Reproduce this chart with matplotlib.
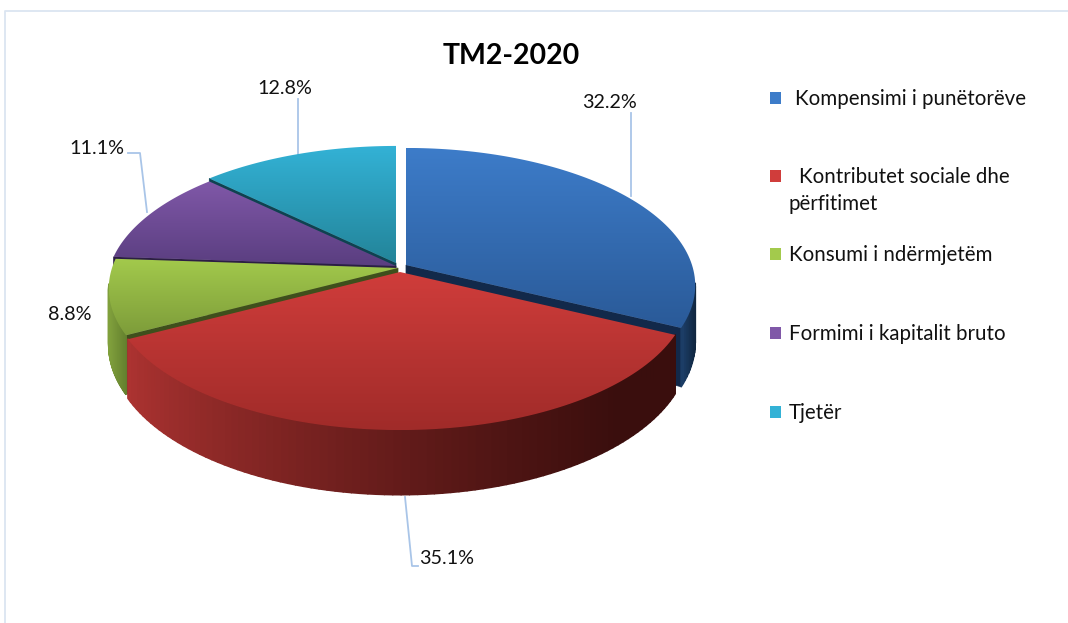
import numpy as np
import matplotlib
matplotlib.use("Agg")
import matplotlib.pyplot as plt
from matplotlib.colors import LinearSegmentedColormap, to_rgb
from matplotlib.patches import Polygon, Rectangle
from matplotlib.collections import PolyCollection

plt.rcParams['font.family'] = ['Lato', 'DejaVu Sans']

categories = ["Kompensimi i punëtorëve", "Kontributet sociale dhe\npërfitimet",
              "Konsumi i ndërmjetëm", "Formimi i kapitalit bruto", "Tjetër"]
shares = [32.2, 35.1, 8.8, 11.1, 12.8]
title = "TM2-2020"

top_light = ['#3d7cc9', '#d03d3b', '#a3ca4c', '#8058a8', '#33b2d6']
top_dark = ['#2a5a98', '#a02b29', '#7d9c3a', '#5a3e80', '#238499']
wall_left = ['#1c3d66', '#b03432', '#80a03c', '#5a3e80', '#238499']
wall_right = ['#10263f', '#3a0e0d', '#64802e', '#3f2c5c', '#1a6478']
edge_dark = ['#12294a', '#4a1211', '#3f4f1c', '#2c1e44', '#0f4250']
apex_offset = [(9, -7), (3, 0), (1, -4), (-1, -6), (-1, -9)]
visible_cut = [-1, None, 0, 0, 0]
draw_order = [4, 3, 2, 0, 1]

fig = plt.figure(figsize=(10.68, 6.23), dpi=100)
ax = fig.add_axes([0, 0, 1, 1])
ax.set_xlim(0, 1068)
ax.set_ylim(623, 0)
ax.axis('off')

CX, CY, RX, RY, K, DEPTH = 397, 272, 286, 134.5, 0.149, 55


def proj(theta, r=1.0):
    u = r * np.sin(theta)
    v = r * np.cos(theta)
    s = 1 / (1 + K * v)
    return CX + RX * u * s, CY - RY * v * s, s


edges = np.deg2rad(np.concatenate([[0], np.cumsum(shares)]) * 3.6)
for i in draw_order:
    dx, dy = apex_offset[i]
    th = np.linspace(edges[i], edges[i + 1], 90)
    x, y, s = proj(th)
    x, y = x + dx, y + dy
    yb = y + DEPTH * s
    ax0, ay0 = CX + dx, CY + dy
    ayb = ay0 + DEPTH

    # radial cut wall, only where it faces the viewer
    if visible_cut[i] is not None:
        c = visible_cut[i]
        ax.add_patch(Polygon([(ax0, ay0), (x[c], y[c]), (x[c], y[c] + DEPTH * s[c]), (ax0, ayb)],
                             closed=True, fc=edge_dark[i], ec=edge_dark[i], lw=0.5, zorder=2))

    # outer wall, shaded along x, front half only
    quads = [[(x[j], y[j]), (x[j + 1], y[j + 1]), (x[j + 1], yb[j + 1]), (x[j], yb[j])]
             for j in range(len(th) - 1) if np.cos(th[j]) < -0.12]
    if quads:
        xm = np.array([q[0][0] for q in quads])
        c0, c1 = np.array(to_rgb(wall_left[i])), np.array(to_rgb(wall_right[i]))
        t = np.clip((xm - 125) / (620 - 125), 0, 1) ** 0.75 if i == 1 else (xm - xm.min()) / max(np.ptp(xm), 1)
        cols = [c0 + (c1 - c0) * tt for tt in t]
        ax.add_collection(PolyCollection(quads, facecolors=cols, edgecolors=cols, linewidths=1.2, zorder=2))

    # top face with vertical gradient
    outline = np.vstack([[(ax0, ay0)], np.column_stack([x, y])])
    poly = Polygon(outline, closed=True, fc='none', ec='none', zorder=3)
    ax.add_patch(poly)
    cmap = LinearSegmentedColormap.from_list('g', [top_light[i], top_dark[i]])
    y0, y1 = outline[:, 1].min(), outline[:, 1].max()
    im = ax.imshow(np.linspace(0, 1, 256).reshape(-1, 1), cmap=cmap, aspect='auto',
                   extent=(outline[:, 0].min(), outline[:, 0].max(), y1, y0), zorder=3)
    im.set_clip_path(poly)
ax.set_xlim(0, 1068)
ax.set_ylim(623, 0)

# chart frame
ax.plot([5, 5, 1068], [623, 11, 11], color='#dbe5f1', lw=1.3, zorder=1)

# leader lines
lc = '#a9c5e8'
for lx, ly in (([631, 631], [113, 196]), ([418, 412, 405], [566, 566, 497]),
               ([128, 140, 147], [153, 153, 212]), ([298, 298], [99, 156])):
    ax.plot(lx, ly, color=lc, lw=1.3, zorder=1)

# data labels
label_pos = [(609, 102), (447, 559), (70, 315), (97, 148), (285, 88)]
for v, (lx, ly) in zip(shares, label_pos):
    ax.text(lx, ly, f"{v:.1f}%", ha='center', va='center', fontsize=14.2, color='#111111', zorder=5)

ax.text(511, 56, title, ha='center', va='center', fontsize=20.5, fontweight='bold', color='black')

# legend
leg_y = [98, 176, 254, 333, 412]
leg_x = [795, 799, 789, 789, 789]
for i, (name, yy, xx) in enumerate(zip(categories, leg_y, leg_x)):
    ax.add_patch(Rectangle((770, yy - 6), 11, 12, fc=top_light[i], ec='none', zorder=4))
    parts = name.split('\n')
    ax.text(xx, yy + 1, parts[0], ha='left', va='center', fontsize=14.8, color='#111111')
    if len(parts) > 1:
        ax.text(789, yy + 28, parts[1], ha='left', va='center', fontsize=14.8, color='#111111')

fig.savefig('out.png', dpi=100)
